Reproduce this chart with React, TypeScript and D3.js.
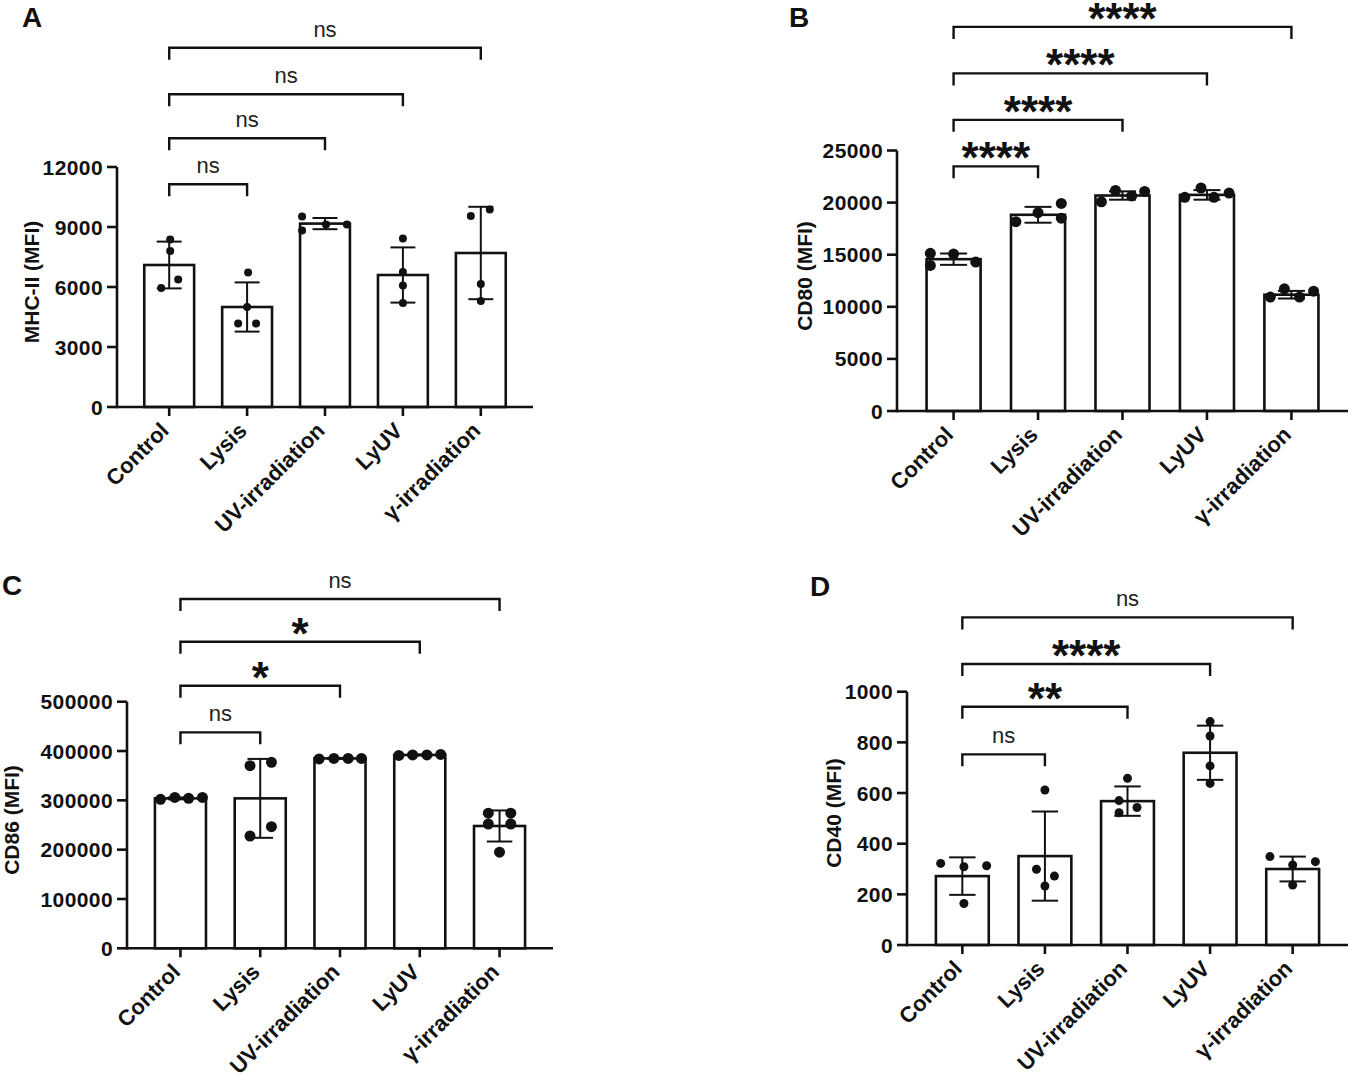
import React from "react";
import * as d3 from "d3";

// ---------------- DATA ----------------
const categories = ["Control", "Lysis", "UV-irradiation", "LyUV", "γ-irradiation"];

// Panel A: MHC-II (MFI)
const mhcMeans = [7100, 5000, 9170, 6600, 7700];
const mhcSD = [1170, 1230, 280, 1380, 2310];
const mhcPoints = [
  [8380, 7800, 6370, 5950],
  [6720, 5000, 4170, 4170],
  [9530, 8830, 9130, 9130],
  [8430, 6750, 6070, 5200],
  [9550, 9870, 6150, 5300],
];
const mhcJitter = [
  [0.02, 0.02, 0.18, -0.16],
  [0.02, 0, -0.18, 0.18],
  [-0.46, -0.46, 0.02, 0.44],
  [0, 0, 0, 0],
  [-0.2, 0.18, 0, 0],
];
const mhcTicks = [0, 3000, 6000, 9000, 12000];
const mhcBrackets = [11135, 13435, 15635, 17965];
const mhcSig = ["ns", "ns", "ns", "ns"];

// Panel B: CD80 (MFI)
const cd80Means = [14570, 18830, 20680, 20740, 11160];
const cd80SD = [545, 760, 400, 460, 365];
const cd80Points = [
  [15130, 13970, 15060, 14300],
  [18170, 19030, 19920, 18500],
  [20080, 21170, 20640, 21070],
  [20510, 21400, 20510, 20910],
  [10930, 11730, 10930, 11500],
];
const cd80Jitter = [
  [-0.43, -0.43, 0, 0.41],
  [-0.41, 0, 0.43, 0.43],
  [-0.39, -0.13, 0.17, 0.41],
  [-0.41, -0.11, 0.13, 0.41],
  [-0.39, -0.13, 0.15, 0.41],
];
const cd80Ticks = [0, 5000, 10000, 15000, 20000, 25000];
const cd80Brackets = [23480, 27940, 32400, 36860];
const cd80Sig = ["****", "****", "****", "****"];

// Panel C: CD86 (MFI)
const cd86Means = [304000, 304000, 385000, 392000, 248000];
const cd86SD = [2000, 80000, 1000, 1000, 31500];
const cd86Points = [
  [302000, 306000, 304000, 306000],
  [370300, 377000, 246600, 227700],
  [384000, 385000, 385000, 385000],
  [391000, 392000, 392000, 393000],
  [274000, 274000, 252000, 252000, 195000],
];
const cd86Jitter = [
  [-0.39, -0.11, 0.16, 0.43],
  [-0.2, 0.22, 0.22, -0.2],
  [-0.41, -0.12, 0.16, 0.42],
  [-0.41, -0.14, 0.14, 0.41],
  [-0.22, 0.22, -0.22, 0.22, 0],
];
const cd86Ticks = [0, 100000, 200000, 300000, 400000, 500000];
const cd86Brackets = [437850, 532450, 621640, 708130];
const cd86Sig = ["ns", "*", "*", "ns"];

// Panel D: CD40 (MFI)
const cd40Means = [272, 351, 568, 759, 300];
const cd40SD = [74, 176, 58, 107, 49];
const cd40Points = [
  [322, 309, 313, 164],
  [612, 299, 272, 233],
  [658, 570, 543, 522],
  [882, 825, 707, 638],
  [349, 316, 329, 237],
];
const cd40Jitter = [
  [-0.41, 0.03, 0.46, 0.03],
  [0, -0.16, 0.18, 0],
  [0, -0.16, 0.18, -0.16],
  [0, 0, 0, 0],
  [-0.43, 0, 0.43, 0],
];
const cd40Ticks = [0, 200, 400, 600, 800, 1000];
const cd40Brackets = [752.6, 940.8, 1109.2, 1293.4];
const cd40Sig = ["ns", "**", "****", "ns"];

// ---------------- DRAWING ----------------
const FONT = "'Liberation Sans', Arial, Helvetica, sans-serif";
const INK = "#111";

type PanelProps = {
  letter: string;
  letterX: number;
  letterY: number;
  title: string;
  titleX: number;
  titleY: number;
  x0: number;
  x1: number;
  y0: number;
  yTop: number;
  ticks: number[];
  means: number[];
  sds: number[];
  points: number[][];
  jitter: number[][];
  brackets: number[];
  sig: string[];
  r: number;
};

function Panel(p: PanelProps) {
  const max = p.ticks[p.ticks.length - 1];
  const x = d3
    .scaleBand<string>()
    .domain(categories)
    .range([p.x0, p.x1])
    .paddingInner(0.36)
    .paddingOuter(0.35);
  const y = d3.scaleLinear().domain([0, max]).range([p.y0, p.yTop]);
  const bw = x.bandwidth();
  const cx = (c: string) => (x(c) as number) + bw / 2;
  const cap = bw * 0.25;
  const drop = 12;

  return (
    <g>
      <text x={p.letterX} y={p.letterY} fontFamily={FONT} fontWeight="bold" fontSize={28} fill={INK}>
        {p.letter}
      </text>
      <text
        transform={`translate(${p.titleX},${p.titleY}) rotate(-90)`}
        textAnchor="middle"
        dy="0.35em"
        fontFamily={FONT}
        fontWeight="bold"
        fontSize={21}
        fill={INK}
      >
        {p.title}
      </text>

      {/* bars */}
      {categories.map((c, i) => (
        <rect
          key={"b" + i}
          x={x(c)}
          y={y(p.means[i])}
          width={bw}
          height={p.y0 - y(p.means[i])}
          fill="#fff"
          stroke={INK}
          strokeWidth={2.6}
        />
      ))}

      {/* error bars */}
      {categories.map((c, i) => {
        const hi = y(p.means[i] + p.sds[i]);
        const lo = y(p.means[i] - p.sds[i]);
        const xc = cx(c);
        return (
          <g key={"e" + i} stroke={INK} strokeWidth={2}>
            <line x1={xc} x2={xc} y1={hi} y2={lo} />
            <line x1={xc - cap} x2={xc + cap} y1={hi} y2={hi} />
            <line x1={xc - cap} x2={xc + cap} y1={lo} y2={lo} />
          </g>
        );
      })}

      {/* points */}
      {categories.map((c, i) =>
        p.points[i].map((v, j) => (
          <circle key={"p" + i + "-" + j} cx={cx(c) + p.jitter[i][j] * bw} cy={y(v)} r={p.r} fill={INK} />
        ))
      )}

      {/* axes */}
      <g stroke={INK} strokeWidth={2.6} fill="none">
        <line x1={p.x0} x2={p.x0} y1={p.y0 + 1.3} y2={y(max)} />
        <line x1={p.x0} x2={p.x1} y1={p.y0} y2={p.y0} />
        {p.ticks.map((t) => (
          <line key={"yt" + t} x1={p.x0 - 10} x2={p.x0} y1={y(t)} y2={y(t)} />
        ))}
        {categories.map((c) => (
          <line key={"xt" + c} x1={cx(c)} x2={cx(c)} y1={p.y0} y2={p.y0 + 9} />
        ))}
      </g>
      {p.ticks.map((t) => (
        <text
          key={"yl" + t}
          x={p.x0 - 14}
          y={y(t)}
          dy="0.36em"
          textAnchor="end"
          fontFamily={FONT}
          fontWeight="bold"
          fontSize={21}
          letterSpacing={0.4}
          fill={INK}
        >
          {t}
        </text>
      ))}
      {categories.map((c) => (
        <text
          key={"xl" + c}
          transform={`translate(${cx(c) + 1},${p.y0 + 25}) rotate(-45)`}
          textAnchor="end"
          fontFamily={FONT}
          fontWeight="bold"
          fontSize={22}
          fill={INK}
        >
          {c}
        </text>
      ))}

      {/* significance brackets */}
      {p.brackets.map((b, k) => {
        const xa = cx(categories[0]);
        const xb = cx(categories[k + 1]);
        const yb = y(b);
        const label = p.sig[k];
        const isNs = label === "ns";
        return (
          <g key={"s" + k}>
            <path
              d={`M${xa},${yb + drop}V${yb}H${xb}V${yb + drop}`}
              fill="none"
              stroke={INK}
              strokeWidth={2.4}
            />
            <text
              x={(xa + xb) / 2}
              y={isNs ? yb - 11 : yb + 7}
              textAnchor="middle"
              fontFamily={FONT}
              fontWeight={isNs ? "normal" : "bold"}
              fontSize={isNs ? 22 : 44}
              fill={isNs ? "#222" : INK}
            >
              {label}
            </text>
          </g>
        );
      })}
    </g>
  );
}

export default function App() {
  return (
    <svg
      width={1352}
      height={1082}
      viewBox="0 0 1352 1082"
      style={{ position: "absolute", left: 0, top: 0, display: "block", background: "#fff" }}
    >
      <rect x={0} y={0} width={1352} height={1082} fill="#fff" />
      <Panel
        letter="A" letterX={22} letterY={27}
        title="MHC-II (MFI)" titleX={32} titleY={282}
        x0={117} x1={533} y0={407} yTop={167}
        ticks={mhcTicks} means={mhcMeans} sds={mhcSD} points={mhcPoints} jitter={mhcJitter}
        brackets={mhcBrackets} sig={mhcSig} r={4}
      />
      <Panel
        letter="B" letterX={789} letterY={27}
        title="CD80 (MFI)" titleX={805} titleY={276}
        x0={897} x1={1348} y0={411} yTop={150.5}
        ticks={cd80Ticks} means={cd80Means} sds={cd80SD} points={cd80Points} jitter={cd80Jitter}
        brackets={cd80Brackets} sig={cd80Sig} r={5.5}
      />
      <Panel
        letter="C" letterX={2} letterY={595}
        title="CD86 (MFI)" titleX={12} titleY={820}
        x0={127} x1={553} y0={948.3} yTop={701.7}
        ticks={cd86Ticks} means={cd86Means} sds={cd86SD} points={cd86Points} jitter={cd86Jitter}
        brackets={cd86Brackets} sig={cd86Sig} r={5.5}
      />
      <Panel
        letter="D" letterX={810} letterY={596}
        title="CD40 (MFI)" titleX={834} titleY={813}
        x0={907} x1={1348} y0={945} yTop={691.7}
        ticks={cd40Ticks} means={cd40Means} sds={cd40SD} points={cd40Points} jitter={cd40Jitter}
        brackets={cd40Brackets} sig={cd40Sig} r={4.5}
      />
    </svg>
  );
}
